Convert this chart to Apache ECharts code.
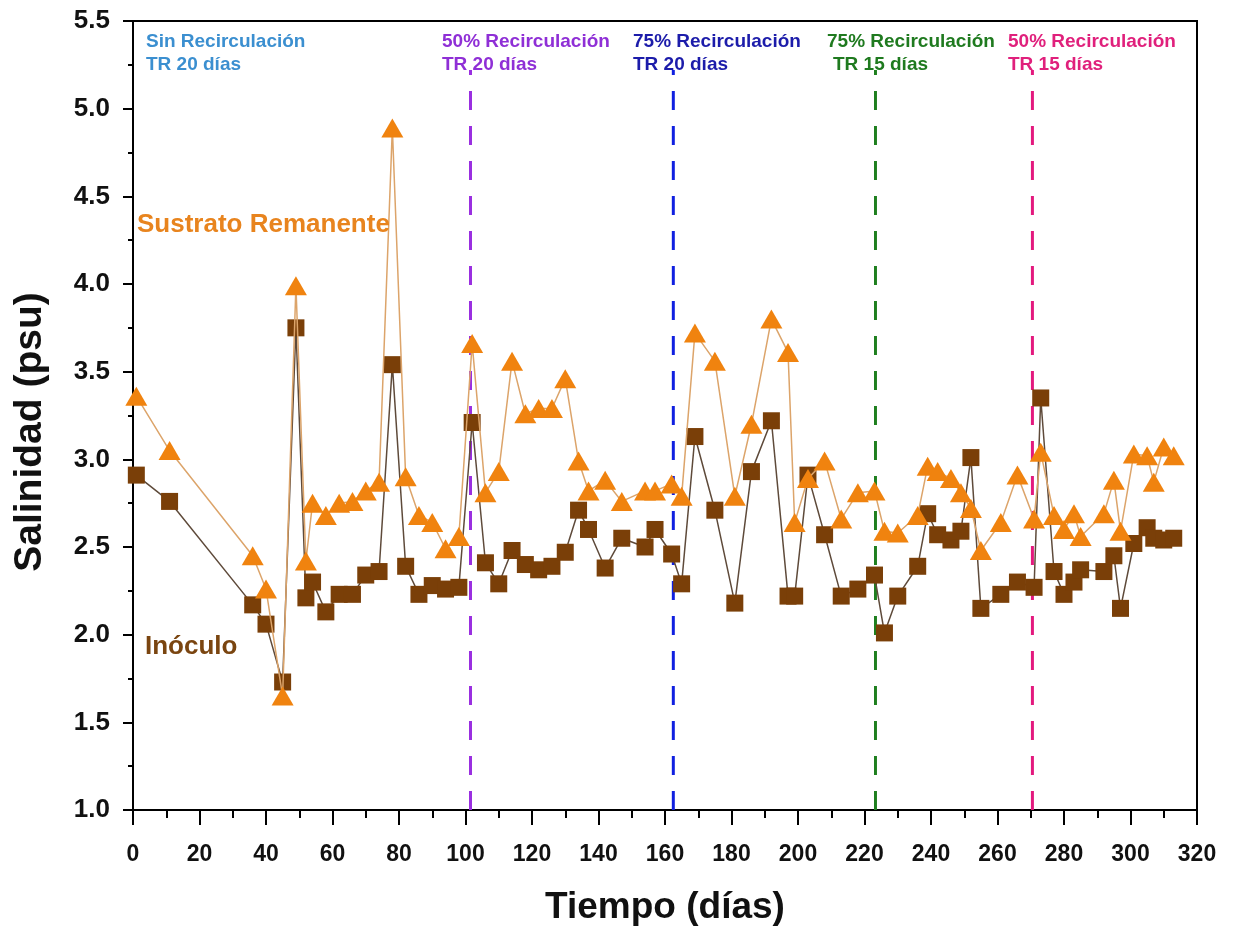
<!DOCTYPE html>
<html>
<head>
<meta charset="utf-8">
<script src="https://cdn.jsdelivr.net/npm/echarts@6/dist/echarts.min.js"></script>
<style>
  html, body { margin: 0; padding: 0; background: #ffffff; }
  #chart { width: 1235px; height: 928px; }
</style>
</head>
<body>
<div id="chart"></div>
<script>
// Sampling days (Tiempo, días)
const days = [1, 11, 36, 40, 45, 49, 52, 54, 58, 62, 66, 70, 74, 78, 82, 86, 90, 94, 98,
  102, 106, 110, 114, 118, 122, 126, 130, 134, 137, 142, 147, 154, 157, 162, 165, 169,
  175, 181, 186, 192, 197, 199, 203, 208, 213, 218, 223, 226, 230, 236, 239, 242, 246,
  249, 252, 255, 261, 266, 271, 273, 277, 280, 283, 285, 292, 295, 297, 301, 305, 307,
  310, 313];

// Salinidad (psu) – Sustrato Remanente
const sustrato = [3.36, 3.05, 2.45, 2.26, 1.65, 3.99, 2.42, 2.75, 2.68, 2.75, 2.76, 2.82,
  2.87, 4.89, 2.90, 2.68, 2.64, 2.49, 2.56, 3.66, 2.81, 2.93, 3.56, 3.26, 3.29, 3.29,
  3.46, 2.99, 2.82, 2.88, 2.76, 2.82, 2.82, 2.86, 2.79, 3.72, 3.56, 2.79, 3.20, 3.80,
  3.61, 2.64, 2.89, 2.99, 2.66, 2.81, 2.82, 2.59, 2.58, 2.68, 2.96, 2.93, 2.89, 2.81,
  2.72, 2.48, 2.64, 2.91, 2.66, 3.04, 2.68, 2.60, 2.69, 2.56, 2.69, 2.88, 2.59, 3.03,
  3.02, 2.87, 3.07, 3.02];

// Salinidad (psu) – Inóculo
const inoculo = [2.91, 2.76, 2.17, 2.06, 1.73, 3.75, 2.21, 2.30, 2.13, 2.23, 2.23, 2.34,
  2.36, 3.54, 2.39, 2.23, 2.28, 2.26, 2.27, 3.21, 2.41, 2.29, 2.48, 2.40, 2.37, 2.39,
  2.47, 2.71, 2.60, 2.38, 2.55, 2.50, 2.60, 2.46, 2.29, 3.13, 2.71, 2.18, 2.93, 3.22,
  2.22, 2.22, 2.91, 2.57, 2.22, 2.26, 2.34, 2.01, 2.22, 2.39, 2.69, 2.57, 2.54, 2.59,
  3.01, 2.15, 2.23, 2.30, 2.27, 3.35, 2.36, 2.23, 2.30, 2.37, 2.36, 2.45, 2.15, 2.52,
  2.61, 2.55, 2.54, 2.55];

// Operating-phase changes (day each phase starts)
const phaseDays = [101.5, 162.5, 223.3, 270.5];
const phaseLineColors = ['#9a2fe0', '#1020e0', '#1f7f1f', '#e3197e'];

// Phase captions
const phaseTitles = ['Sin Recirculación', '50% Recirculación', '75% Recirculación', '75% Recirculación', '50% Recirculación'];
const phaseSubtitles = ['TR 20 días', 'TR 20 días', 'TR 20 días', 'TR 15 días', 'TR 15 días'];
const phaseTextColors = ['#3b8fd0', '#8f2fd6', '#1c1caa', '#1f7a1f', '#e0207c'];
const captionPos = [[146, 146], [442, 442], [633, 633], [827, 833], [1008, 1008]];

const lineTop = 5.22, lineBottom = 1.0;

const chart = echarts.init(document.getElementById('chart'), null, { renderer: 'canvas' });

const FONT = '"Liberation Sans", Arial, sans-serif';

const phaseSeries = phaseDays.map((d, i) => ({
  type: 'line',
  data: [[d, lineBottom], [d, lineTop]],
  symbol: 'none',
  silent: true,
  z: 1,
  lineStyle: { color: phaseLineColors[i], width: 3, type: [19, 16] }
}));

const graphics = [];
phaseTitles.forEach((t, i) => {
  graphics.push({
    type: 'text', x: captionPos[i][0], y: 42, z: 100,
    style: { text: t, fill: phaseTextColors[i], font: 'bold 19px ' + FONT, textVerticalAlign: 'middle' }
  });
  graphics.push({
    type: 'text', x: captionPos[i][1], y: 65, z: 100,
    style: { text: phaseSubtitles[i], fill: phaseTextColors[i], font: 'bold 19px ' + FONT, textVerticalAlign: 'middle' }
  });
});
graphics.push({
  type: 'text', x: 137, y: 225, z: 100,
  style: { text: 'Sustrato Remanente', fill: '#e8841e', font: 'bold 26px ' + FONT, textVerticalAlign: 'middle' }
});
graphics.push({
  type: 'text', x: 145, y: 647, z: 100,
  style: { text: 'Inóculo', fill: '#7a4510', font: 'bold 26px ' + FONT, textVerticalAlign: 'middle' }
});
// Axis titles
graphics.push({
  type: 'text', x: 30, y: 432, rotation: Math.PI / 2, z: 100,
  style: { text: 'Salinidad (psu)', fill: '#111', font: 'bold 39px ' + FONT, textAlign: 'center', textVerticalAlign: 'middle' }
});
graphics.push({
  type: 'text', x: 665, y: 908, z: 100,
  style: { text: 'Tiempo (días)', fill: '#111', font: 'bold 37px ' + FONT, textAlign: 'center', textVerticalAlign: 'middle' }
});

chart.setOption({
  animation: false,
  backgroundColor: '#ffffff',
  grid: { left: 133, right: 38, top: 21, bottom: 118, outerBoundsMode: 'none', containLabel: false,
    show: true, borderColor: '#000', borderWidth: 2, backgroundColor: 'transparent' },
  xAxis: {
    type: 'value', min: 0, max: 320, interval: 20,
    axisLine: { show: true, onZero: false, lineStyle: { color: '#000', width: 2 } },
    axisTick: { show: true, inside: false, length: 15, lineStyle: { color: '#000', width: 2 } },
    minorTick: { show: true, splitNumber: 2, length: 8, lineStyle: { color: '#000', width: 2 } },
    axisLabel: { margin: 33, fontFamily: FONT, fontWeight: 'bold', fontSize: 23, color: '#111' },
    splitLine: { show: false }
  },
  yAxis: {
    type: 'value', min: 1.0, max: 5.5, interval: 0.5,
    axisLine: { show: true, onZero: false, lineStyle: { color: '#000', width: 2 } },
    axisTick: { show: true, inside: false, length: 10, lineStyle: { color: '#000', width: 2 } },
    minorTick: { show: true, splitNumber: 2, length: 5, lineStyle: { color: '#000', width: 2 } },
    axisLabel: { margin: 23, fontFamily: FONT, fontWeight: 'bold', fontSize: 26, color: '#111',
      formatter: v => v.toFixed(1) },
    splitLine: { show: false }
  },
  series: [
    ...phaseSeries,
    {
      name: 'Inóculo', type: 'line', z: 3,
      data: days.map((d, i) => [d, inoculo[i]]),
      symbol: 'rect', symbolSize: 17,
      itemStyle: { color: '#7a3f08' },
      lineStyle: { color: '#5e4a3a', width: 1.5 }
    },
    {
      name: 'Sustrato Remanente', type: 'line', z: 4,
      data: days.map((d, i) => [d, sustrato[i]]),
      symbol: 'triangle', symbolSize: [22, 19],
      itemStyle: { color: '#f0830f' },
      lineStyle: { color: '#dca46a', width: 1.5 }
    }
  ],
  graphic: graphics
});
</script>
</body>
</html>
